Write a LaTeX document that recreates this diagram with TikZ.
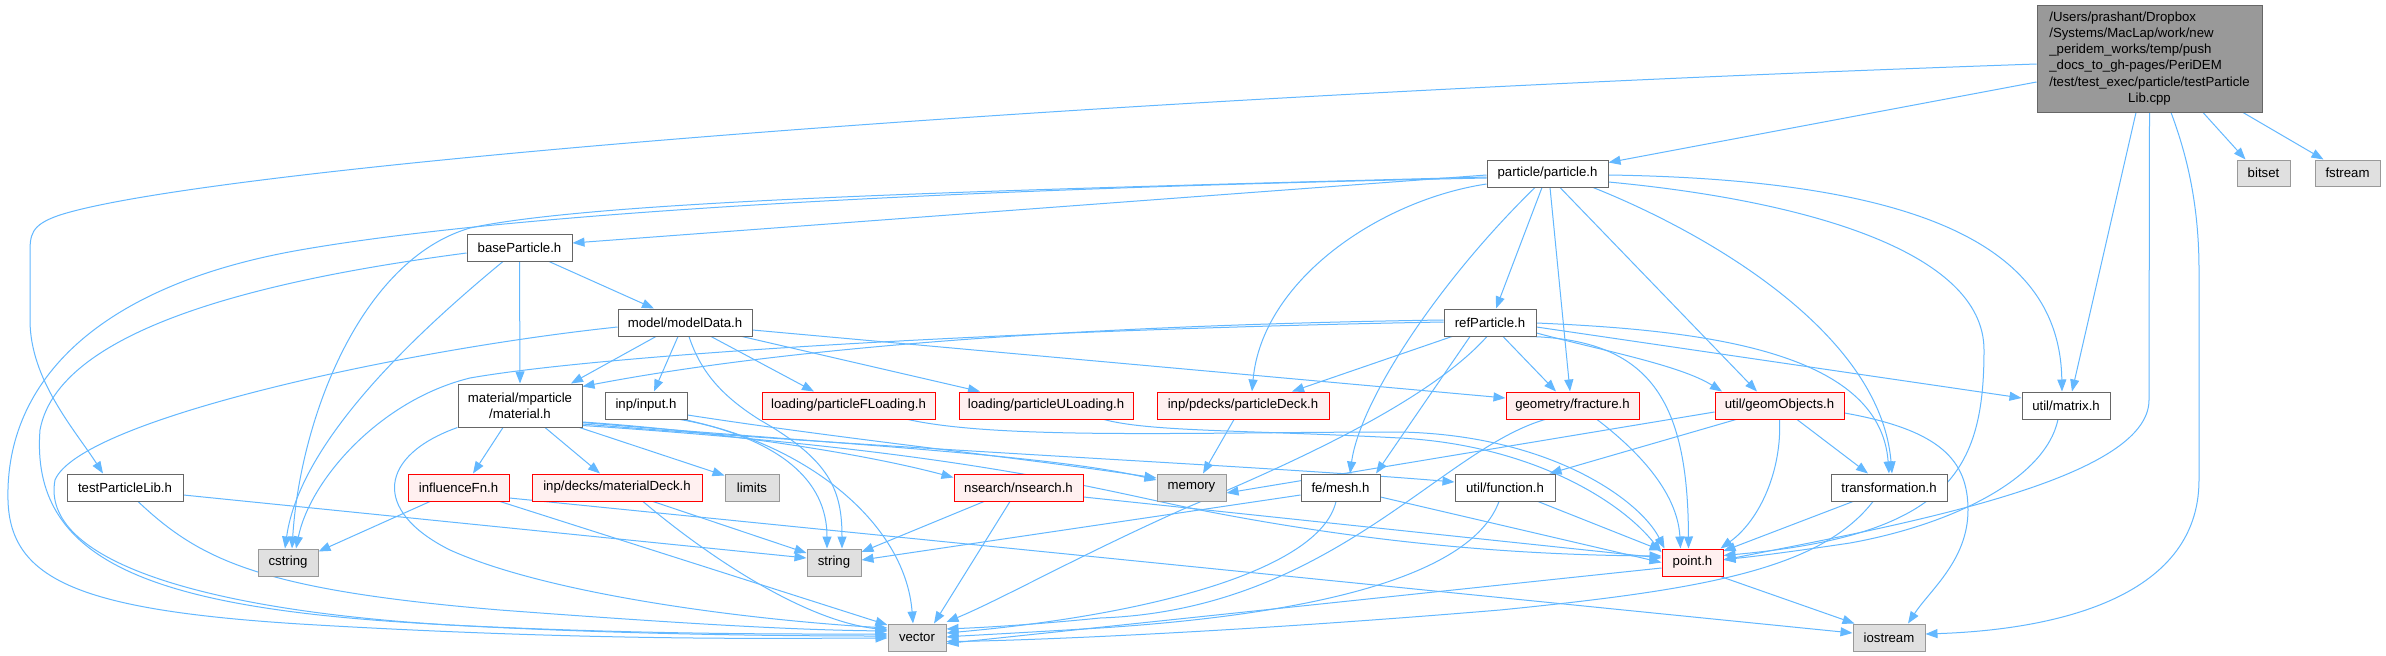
\documentclass[tikz,border=0pt]{standalone}
\usepackage{fontspec}
\setmainfont{Liberation Sans}
\usetikzlibrary{arrows.meta}
\pgfdeclarelayer{back}
\pgfdeclarelayer{edges}
\pgfsetlayers{back,edges,main}
\definecolor{edgec}{HTML}{63B8FF}
\definecolor{greyforty}{HTML}{666666}
\definecolor{greysixty}{HTML}{999999}
\definecolor{sysfill}{HTML}{E0E0E0}
\definecolor{redfill}{HTML}{FFF0F0}
\newcommand\nodefont{\fontsize{13.2pt}{16.2pt}\selectfont}
\begin{document}
\begin{tikzpicture}[x=1pt,y=-1pt,
 box/.style={draw=greyforty, fill=white, line width=1pt, inner sep=0pt, font=\nodefont, text=black, align=center},
 sysbox/.style={box, draw=greysixty, fill=sysfill},
 redbox/.style={box, draw=red, fill=redfill},
 rootbox/.style={box, fill=greysixty},
 dep/.style={draw=edgec, line width=1pt, -{Triangle[length=12pt,width=9pt]}}]
\useasboundingbox (0,0) rectangle (2386,656);
\begin{pgfonlayer}{back}
\fill[white] (0,0) rectangle (2386,656);
\end{pgfonlayer}

% nodes
\node[rootbox, minimum width=225pt, minimum height=107pt] (R) at (2149.5,58.5) {\begin{tabular}{@{}l@{}}/Users/prashant/Dropbox\\/Systems/MacLap/work/new\\\_peridem\_works/temp/push\\\_docs\_to\_gh-pages/PeriDEM\\/test/test\_exec/particle/testParticle\\\multicolumn{1}{@{}c@{}}{Lib.cpp}\end{tabular}};
\node[sysbox, minimum width=53pt, minimum height=26pt] (BS) at (2263.5,173) {bitset};
\node[sysbox, minimum width=65pt, minimum height=26pt] (FS) at (2347.5,173) {fstream};
\node[box, minimum width=121pt, minimum height=27pt] (P) at (1547.5,173.5) {particle/particle.h};
\node[box, minimum width=105pt, minimum height=27pt] (BP) at (519.5,247.5) {baseParticle.h};
\node[box, minimum width=134pt, minimum height=27pt] (MD) at (685,322.5) {model/modelData.h};
\node[box, minimum width=92pt, minimum height=27pt] (RP) at (1490,322.5) {refParticle.h};
\node[box, minimum width=124pt, minimum height=43pt] (MTL) at (520,405.5) {material/mparticle\\/material.h};
\node[box, minimum width=82pt, minimum height=27pt] (INP) at (646,405.5) {inp/input.h};
\node[redbox, minimum width=173pt, minimum height=27pt] (FL) at (848.5,405.5) {loading/particleFLoading.h};
\node[redbox, minimum width=174pt, minimum height=27pt] (UL) at (1046,405.5) {loading/particleULoading.h};
\node[redbox, minimum width=172pt, minimum height=27pt] (PD) at (1243,405.5) {inp/pdecks/particleDeck.h};
\node[redbox, minimum width=133pt, minimum height=27pt] (FR) at (1572.5,405.5) {geometry/fracture.h};
\node[redbox, minimum width=129pt, minimum height=27pt] (GO) at (1779.5,405.5) {util/geomObjects.h};
\node[box, minimum width=88pt, minimum height=27pt] (MAT) at (2066,405.5) {util/matrix.h};
\node[box, minimum width=116pt, minimum height=27pt] (TPL) at (125,487.5) {testParticleLib.h};
\node[redbox, minimum width=101pt, minimum height=27pt] (INF) at (458.5,487.5) {influenceFn.h};
\node[redbox, minimum width=170pt, minimum height=27pt] (MDK) at (617,487.5) {inp/decks/materialDeck.h};
\node[sysbox, minimum width=54pt, minimum height=27pt] (LIM) at (752,487.5) {limits};
\node[redbox, minimum width=129pt, minimum height=27pt] (NS) at (1018.5,487.5) {nsearch/nsearch.h};
\node[sysbox, minimum width=69pt, minimum height=27pt] (MEM) at (1191.5,487.5) {memory};
\node[box, minimum width=79pt, minimum height=27pt] (MESH) at (1340.5,487.5) {fe/mesh.h};
\node[box, minimum width=100pt, minimum height=27pt] (FN) at (1505,487.5) {util/function.h};
\node[box, minimum width=116pt, minimum height=27pt] (TR) at (1889,487.5) {transformation.h};
\node[sysbox, minimum width=60pt, minimum height=27pt] (CS) at (288,562.5) {cstring};
\node[sysbox, minimum width=54pt, minimum height=27pt] (STR) at (834,562.5) {string};
\node[redbox, minimum width=61pt, minimum height=27pt] (PT) at (1692.5,562.5) {point.h};
\node[sysbox, minimum width=58pt, minimum height=27pt] (VEC) at (917,637.5) {vector};
\node[sysbox, minimum width=72pt, minimum height=27pt] (IO) at (1889,637.5) {iostream};

\begin{pgfonlayer}{edges}
% root
\draw[dep] ([yshift=-5.5pt]R.west) .. controls (1000,100) and (200,170) .. (60,215) .. controls (30,225) and (30,235) .. (30,255) -- (30,320) .. controls (30,380) and (75,430) .. ([xshift=-22pt]TPL.north);
\draw[dep] ([yshift=-23.5pt]R.west) -- ([yshift=-3pt]P.north east);
\draw[dep] ([xshift=-13.5pt]R.south) -- ([xshift=6pt]MAT.north);
\draw[dep] (R.south) -- (2149,400) .. controls (2149,480) and (1900,525) .. ([yshift=2.5pt]PT.east);
\draw[dep] ([xshift=21.5pt]R.south) .. controls (2185,150) and (2199,200) .. (2199,270) -- (2199,480) .. controls (2199,600) and (2050,630) .. ([yshift=3.5pt]IO.east);
\draw[dep] ([xshift=53.5pt]R.south) -- ([xshift=-18pt]BS.north);
\draw[dep] ([xshift=93.5pt]R.south) -- ([xshift=-24pt]FS.north);
% particle.h
\draw[dep] ([yshift=-1.5pt]P.west) -- ([yshift=4.5pt]BP.east);
\draw[dep] ([yshift=-3.5pt]P.west) .. controls (1000,190) and (600,200) .. (470,228) .. controls (360,260) and (300,420) .. ([xshift=4pt]CS.north);
\draw[dep] ([yshift=-4.5pt]P.west) .. controls (900,190) and (500,215) .. (300,250) .. controls (100,285) and (5,380) .. (8,500) .. controls (10,580) and (80,610) .. (300,624) .. controls (600,642) and (800,638) .. ([yshift=-0.5pt]VEC.west);
\draw[dep] ([yshift=-10.5pt]P.west) .. controls (1380,200) and (1262,280) .. ([xshift=9pt]PD.north);
\draw[dep] ([xshift=-12.5pt]P.south) .. controls (1440,280) and (1360,400) .. ([xshift=9.5pt]MESH.north);
\draw[dep] ([xshift=-5.5pt]P.south) -- ([xshift=6pt]RP.north);
\draw[dep] ([xshift=2.5pt]P.south) -- ([xshift=-2.5pt]FR.north);
\draw[dep] ([xshift=12.5pt]P.south) -- ([xshift=-22.5pt]GO.north);
\draw[dep] ([xshift=45.5pt]P.south) .. controls (1700,230) and (1880,330) .. ([xshift=3pt]TR.north);
\draw[dep] ([yshift=-8.5pt]P.east) .. controls (1800,200) and (1984,250) .. (1984,350) .. controls (1984,470) and (1950,535) .. ([yshift=7pt]PT.east);
\draw[dep] ([yshift=-1.5pt]P.east) .. controls (1950,180) and (2060,260) .. ([xshift=-4pt]MAT.north);
% baseParticle.h
\draw[dep] ([xshift=29.5pt]BP.south) -- ([xshift=-31pt]MD.north);
\draw[dep] (BP.south) -- (MTL.north);
\draw[dep] ([xshift=-16.5pt]BP.south) .. controls (420,330) and (300,440) .. ([xshift=-3pt]CS.north);
\draw[dep] ([yshift=-5.5pt]BP.west) .. controls (300,275) and (60,320) .. (40,430) .. controls (30,560) and (150,605) .. (400,622) .. controls (600,635) and (800,636) .. ([yshift=1.5pt]VEC.west);
% modelData.h
\draw[dep] ([xshift=-29pt]MD.south) -- ([xshift=51pt]MTL.north);
\draw[dep] ([xshift=-7pt]MD.south) -- ([xshift=8pt]INP.north);
\draw[dep] ([xshift=26pt]MD.south) -- ([xshift=-34.5pt]FL.north);
\draw[dep] ([xshift=57pt]MD.south) -- ([xshift=-66pt]UL.north);
\draw[dep] ([yshift=-7.5pt]MD.east) -- ([yshift=7.5pt]FR.west);
\draw[dep] ([xshift=4pt]MD.south) .. controls (700,370) and (720,395) .. (760,420) .. controls (830,460) and (842,490) .. ([xshift=8pt]STR.north);
\draw[dep] ([yshift=-4.5pt]MD.west) .. controls (400,350) and (80,420) .. (55,480) .. controls (40,560) and (200,610) .. (450,625) .. controls (650,635) and (800,634) .. ([yshift=3.5pt]VEC.west);
% refParticle.h
\draw[dep] ([yshift=2.5pt]RP.west) .. controls (1100,325) and (800,345) .. ([yshift=-3pt]MTL.north east);
\draw[dep] ([yshift=0.5pt]RP.west) .. controls (1000,330) and (600,355) .. (470,378) .. controls (380,400) and (310,480) .. ([xshift=8pt]CS.north);
\draw[dep] ([xshift=-38pt]RP.south) -- ([xshift=49pt]PD.north);
\draw[dep] ([xshift=-20pt]RP.south) -- ([xshift=35.5pt]MESH.north);
\draw[dep] ([xshift=-3pt]RP.south) .. controls (1430,400) and (1300,460) .. (1188,507) .. controls (1080,555) and (1000,600) .. ([yshift=15.5pt]VEC.east);
\draw[dep] ([xshift=13pt]RP.south) -- ([xshift=-16.5pt]FR.north);
\draw[dep] ([yshift=-10.5pt]RP.east) .. controls (1600,350) and (1680,365) .. ([xshift=-57.5pt]GO.north);
\draw[dep] ([yshift=-4.5pt]RP.east) -- ([yshift=7.5pt]MAT.west);
\draw[dep] ([yshift=-0.5pt]RP.east) .. controls (1700,330) and (1880,350) .. (TR.north);
\draw[dep] ([xshift=40pt]RP.south) .. controls (1650,340) and (1688,400) .. ([xshift=-4pt]PT.north);
% material.h
\draw[dep] ([xshift=-17pt]MTL.south) -- ([xshift=14.5pt]INF.north);
\draw[dep] ([xshift=25pt]MTL.south) -- ([xshift=-17pt]MDK.north);
\draw[dep] ([xshift=-3pt]MTL.south east) -- ([yshift=-2pt]LIM.north west);
\draw[dep] ([yshift=-16.5pt]MTL.east) .. controls (700,430) and (850,450) .. ([yshift=-4pt]NS.north west);
\draw[dep] ([yshift=-17pt]MTL.east) .. controls (850,445) and (1050,455) .. ([yshift=7.5pt]MEM.west);
\draw[dep] ([yshift=-18.5pt]MTL.east) .. controls (900,450) and (1250,465) .. ([yshift=5.5pt]FN.west);
\draw[dep] ([yshift=-20pt]MTL.east) .. controls (950,450) and (1080,485) .. (1190,508) .. controls (1350,540) and (1500,555) .. ([yshift=6.5pt]PT.west);
\draw[dep] (MTL.south west) .. controls (380,455) and (370,510) .. (450,550) .. controls (550,595) and (750,620) .. ([yshift=9.5pt]VEC.west);
% input.h
\draw[dep] ([yshift=-9.5pt]INP.east) .. controls (850,440) and (1000,455) .. ([yshift=9.5pt]MEM.west);
\draw[dep] ([xshift=38pt]INP.south) .. controls (780,440) and (827,480) .. ([xshift=-7pt]STR.north);
\draw[dep] ([xshift=34pt]INP.south) .. controls (800,440) and (905,520) .. ([xshift=-4pt]VEC.north);
% influenceFn.h
\draw[dep] ([xshift=-28.5pt]INF.south) -- ([yshift=-3pt]CS.north east);
\draw[dep] ([xshift=41.5pt]INF.south) -- ([yshift=12.5pt]VEC.west);
\draw[dep] ([yshift=-10.5pt]INF.east) -- ([yshift=4.5pt]IO.west);
% materialDeck.h
\draw[dep] ([xshift=36pt]MDK.south) -- ([yshift=9.5pt]STR.west);
\draw[dep] ([xshift=26pt]MDK.south) .. controls (700,550) and (800,620) .. ([yshift=7.5pt]VEC.west);
% testParticleLib.h
\draw[dep] ([yshift=-7.5pt]TPL.east) -- ([yshift=4.5pt]STR.west);
\draw[dep] ([xshift=13pt]TPL.south) .. controls (200,560) and (260,590) .. (500,610) .. controls (700,625) and (800,630) .. ([yshift=6.5pt]VEC.west);
% nsearch.h
\draw[dep] ([xshift=-34.5pt]NS.south) -- ([yshift=10.5pt]STR.east);
\draw[dep] ([xshift=-8.5pt]NS.south) -- ([xshift=17pt]VEC.north);
\draw[dep] ([yshift=-9.5pt]NS.east) -- ([yshift=4.5pt]PT.west);
% mesh.h
\draw[dep] ([yshift=-7.5pt]MESH.west) -- ([yshift=2.5pt]STR.east);
\draw[dep] ([xshift=-4.5pt]MESH.south) .. controls (1320,570) and (1150,615) .. ([yshift=4.5pt]VEC.east);
\draw[dep] ([yshift=-9.5pt]MESH.east) -- (PT.west);
% function.h
\draw[dep] ([xshift=-6pt]FN.south) .. controls (1470,580) and (1300,615) .. (1100,628) .. controls (1000,634) and (960,636) .. ([yshift=0.5pt]VEC.east);
\draw[dep] ([xshift=33pt]FN.south) -- ([yshift=-2pt]PT.north west);
% geomObjects.h
\draw[dep] ([yshift=-6.5pt]GO.west) -- ([yshift=-5.5pt]MEM.east);
\draw[dep] ([xshift=-43.5pt]GO.south) -- ([xshift=-6pt]FN.north east);
\draw[dep] ([xshift=17.5pt]GO.south) -- ([xshift=-21pt]TR.north);
\draw[dep] (GO.south) .. controls (1782,470) and (1760,520) .. ([xshift=-3pt]PT.north east);
\draw[dep] ([yshift=-7.5pt]GO.east) .. controls (1940,430) and (1968,460) .. (1968,510) .. controls (1968,560) and (1930,590) .. ([xshift=19pt]IO.north);
% fracture.h
\draw[dep] ([xshift=-27.5pt]FR.south) .. controls (1440,450) and (1330,610) .. (1100,618) .. controls (1020,626) and (970,628) .. ([yshift=8.5pt]VEC.east);
\draw[dep] ([xshift=24.5pt]FR.south) .. controls (1650,460) and (1678,500) .. ([xshift=-12pt]PT.north);
% transformation.h
\draw[dep] ([xshift=-36pt]TR.south) -- ([yshift=11.5pt]PT.east);
\draw[dep] ([xshift=-16pt]TR.south) .. controls (1820,570) and (1700,590) .. (1500,610) .. controls (1200,635) and (1000,641) .. ([yshift=-4pt]VEC.east);
% point.h
\draw[dep] ([yshift=-5.5pt]PT.west) -- ([yshift=-6pt]VEC.east);
\draw[dep] ([xshift=-3pt]PT.south east) -- ([xshift=2pt]IO.north west);
% loading
\draw[dep] ([xshift=59.5pt]FL.south) .. controls (1000,440) and (1200,432) .. (1400,432) .. controls (1550,435) and (1640,500) .. ([xshift=3pt]PT.north west);
\draw[dep] ([xshift=58pt]UL.south) .. controls (1150,432) and (1250,430) .. (1400,438) .. controls (1530,445) and (1620,500) .. ([yshift=-4pt]PT.north west);
% particleDeck.h
\draw[dep] ([xshift=-9pt]PD.south) -- ([xshift=11.5pt]MEM.north);
% matrix.h
\draw[dep] ([xshift=-8pt]MAT.south) .. controls (2045,480) and (1950,525) .. (1850,543) .. controls (1790,552) and (1750,557) .. ([yshift=3pt]PT.east);
\end{pgfonlayer}
\end{tikzpicture}
\end{document}
